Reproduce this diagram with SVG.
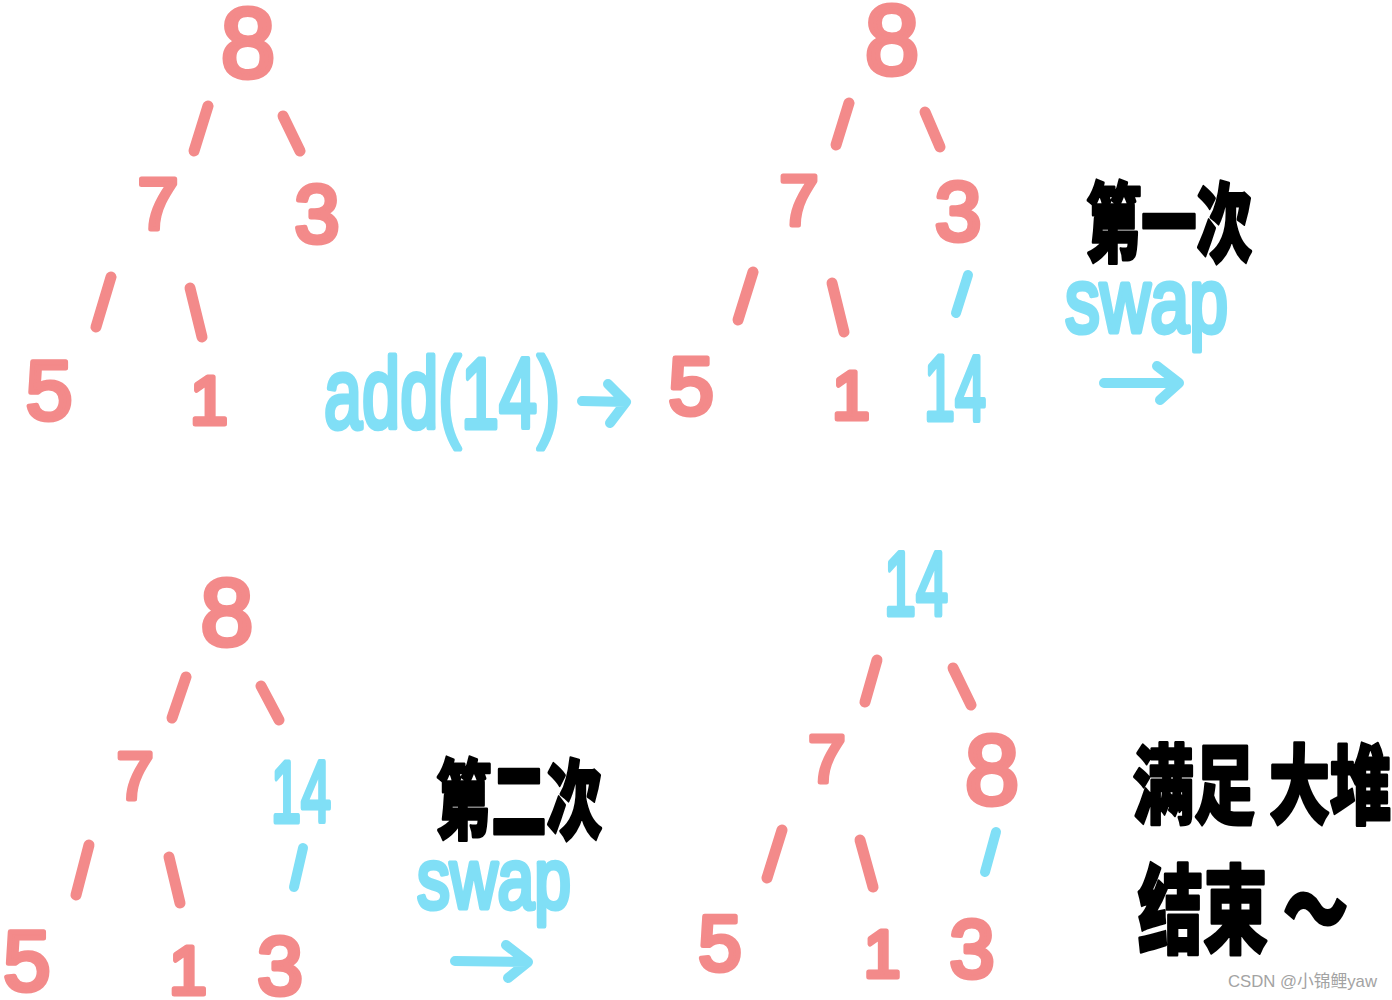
<svg xmlns="http://www.w3.org/2000/svg" width="1392" height="1000" viewBox="0 0 1392 1000">
<style>
.s{fill:#f38a8a;stroke:#f38a8a;stroke-width:5;stroke-linejoin:round;font-family:"Liberation Sans","Noto Sans",sans-serif;text-anchor:middle}
.c{fill:#80dff6;stroke:#80dff6;stroke-width:5;stroke-linejoin:round;font-family:"Liberation Sans","Noto Sans",sans-serif}
.cm{text-anchor:middle}
.k{fill:#000;stroke:#000;stroke-width:3;stroke-linejoin:round;font-family:"Noto Sans CJK SC","Noto Sans CJK JP",sans-serif;font-weight:900}
.e{stroke:#f38a8a;stroke-width:11;stroke-linecap:round;fill:none}
.ec{stroke:#80dff6;stroke-width:10;stroke-linecap:round;stroke-linejoin:round;fill:none}
.wm{fill:#a3a3a3;font-family:"Liberation Sans","Noto Sans CJK SC",sans-serif;font-size:17px}
</style>
<rect width="1392" height="1000" fill="#fff"/>

<g id="connectors">
  <!-- tree 1 -->
  <line class="e" x1="208" y1="106" x2="194" y2="151"/>
  <line class="e" x1="283" y1="116" x2="300" y2="151"/>
  <line class="e" x1="111" y1="277" x2="96" y2="327"/>
  <line class="e" x1="190" y1="288" x2="202" y2="337"/>
  <!-- tree 2 -->
  <line class="e" x1="849" y1="103" x2="836" y2="145"/>
  <line class="e" x1="925" y1="112" x2="940" y2="147"/>
  <line class="e" x1="753" y1="272" x2="738" y2="320"/>
  <line class="e" x1="832" y1="283" x2="844" y2="332"/>
  <line class="ec" x1="968" y1="275" x2="956" y2="313"/>
  <!-- tree 3 -->
  <line class="e" x1="186" y1="677" x2="172" y2="718"/>
  <line class="e" x1="261" y1="686" x2="279" y2="720"/>
  <line class="e" x1="89" y1="845" x2="76" y2="895"/>
  <line class="e" x1="169" y1="857" x2="180" y2="903"/>
  <line class="ec" x1="303" y1="848" x2="294" y2="887"/>
  <!-- tree 4 -->
  <line class="e" x1="877" y1="660" x2="865" y2="702"/>
  <line class="e" x1="953" y1="668" x2="971" y2="705"/>
  <line class="e" x1="782" y1="830" x2="767" y2="878"/>
  <line class="e" x1="860" y1="840" x2="873" y2="887"/>
  <line class="ec" x1="996" y1="832" x2="985" y2="872"/>
  <!-- arrows -->
  <path class="ec" d="M582,401 L626,402 M608,384 L626,402 L610,423"/>
  <path class="ec" d="M1104,383 L1179,383 M1157,366 L1179,383 L1160,400"/>
  <path class="ec" d="M455,961 L528,962 M506,945 L528,962 L508,978"/>
</g>

<!-- tree 1 -->
<g id="t1-8"><text class="s" x="248" y="77" font-size="98">8</text></g>
<g id="t1-7"><text class="s" x="158" y="229" font-size="73">7</text></g>
<g id="t1-3"><text class="s" x="317" y="242" font-size="81">3</text></g>
<g id="t1-5"><text class="s" x="49" y="419" font-size="84">5</text></g>
<g id="t1-1"><text class="s" x="209" y="424" font-size="68">1</text></g>

<g id="label-add"><text class="c" x="324" y="428" font-size="100" textLength="236" lengthAdjust="spacingAndGlyphs">add(14)</text></g>

<!-- tree 2 -->
<g id="t2-8"><text class="s" x="892" y="74" font-size="98">8</text></g>
<g id="t2-7"><text class="s" x="799" y="225" font-size="70">7</text></g>
<g id="t2-3"><text class="s" x="958" y="240" font-size="84">3</text></g>
<g id="t2-5"><text class="s" x="691" y="414" font-size="82">5</text></g>
<g id="t2-1"><text class="s" x="851" y="419" font-size="68">1</text></g>
<g id="t2-14"><text class="c cm" x="955" y="420" font-size="92" textLength="62" lengthAdjust="spacingAndGlyphs">14</text></g>

<g id="label-swap1">
  <text class="k" x="1086" y="255" font-size="86" textLength="166" lengthAdjust="spacingAndGlyphs">第一次</text>
  <text class="c" x="1065" y="332" font-size="90" textLength="163" lengthAdjust="spacingAndGlyphs">swap</text>
</g>

<!-- tree 3 -->
<g id="t3-8"><text class="s" x="227" y="645" font-size="95">8</text></g>
<g id="t3-7"><text class="s" x="135" y="799" font-size="66">7</text></g>
<g id="t3-14"><text class="c cm" x="301" y="822" font-size="88" textLength="60" lengthAdjust="spacingAndGlyphs">14</text></g>
<g id="t3-5"><text class="s" x="27" y="990" font-size="85">5</text></g>
<g id="t3-1"><text class="s" x="188" y="994" font-size="68">1</text></g>
<g id="t3-3"><text class="s" x="280" y="994" font-size="82">3</text></g>

<g id="label-swap2">
  <text class="k" x="436" y="832" font-size="86" textLength="166" lengthAdjust="spacingAndGlyphs">第二次</text>
  <text class="c" x="417" y="908" font-size="86" textLength="154" lengthAdjust="spacingAndGlyphs">swap</text>
</g>

<!-- tree 4 -->
<g id="t4-14"><text class="c cm" x="916" y="615" font-size="91" textLength="64" lengthAdjust="spacingAndGlyphs">14</text></g>
<g id="t4-7"><text class="s" x="827" y="782" font-size="67">7</text></g>
<g id="t4-8"><text class="s" x="992" y="804" font-size="98">8</text></g>
<g id="t4-5"><text class="s" x="720" y="970" font-size="78">5</text></g>
<g id="t4-1"><text class="s" x="882" y="977" font-size="66">1</text></g>
<g id="t4-3"><text class="s" x="972" y="977" font-size="81">3</text></g>

<g id="label-done">
  <text class="k" x="1133" y="817" font-size="86" textLength="258" lengthAdjust="spacingAndGlyphs">满足 大堆</text>
  <text class="k" x="1138" y="945" font-size="96" textLength="210" lengthAdjust="spacingAndGlyphs">结束 ～</text>
</g>

<g id="watermark"><text class="wm" x="1228" y="987" textLength="149" lengthAdjust="spacingAndGlyphs">CSDN @小锦鲤yaw</text></g>
</svg>
